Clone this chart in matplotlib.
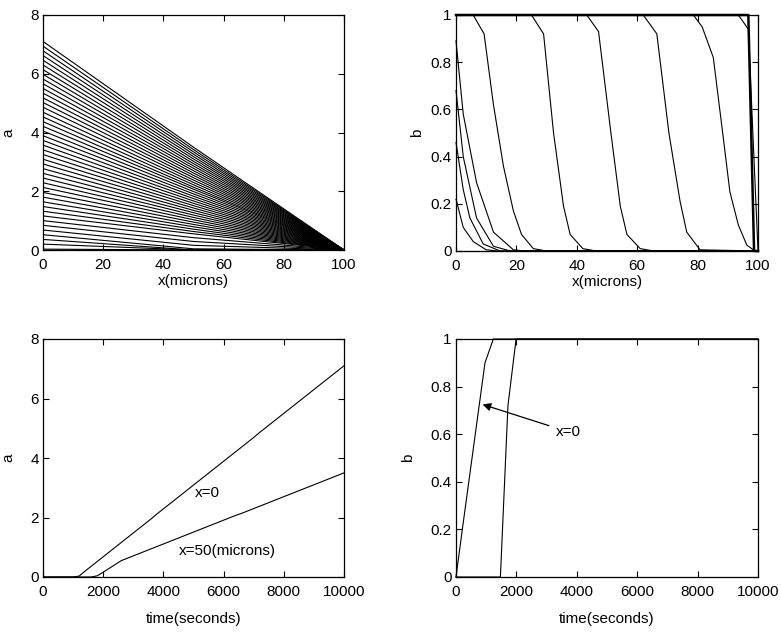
import numpy as np
import matplotlib
matplotlib.use("Agg")
import matplotlib.pyplot as plt
from matplotlib.ticker import FormatStrFormatter

plt.rcParams['font.family'] = ['Liberation Sans', 'DejaVu Sans']
plt.rcParams['font.size'] = 11

# ---- data ----
# times of the a(x) snapshots (seconds)
t_snap = np.arange(0, 10001, 200)

# a at x=0 for each snapshot
a_x0 = [0, 0, 0, 0, 0, 0, 0.03, 0.20,
        0.36, 0.52, 0.68, 0.84, 1.00, 1.16, 1.32, 1.48, 1.64, 1.80,
        1.96, 2.13, 2.29, 2.45, 2.61, 2.77, 2.93, 3.09, 3.25, 3.41,
        3.57, 3.73, 3.89, 4.05, 4.21, 4.37, 4.53, 4.69, 4.86, 5.02,
        5.18, 5.34, 5.50, 5.66, 5.82, 5.98, 6.14, 6.30, 6.46, 6.62,
        6.78, 6.94, 7.10]

# a at x=50 microns for each snapshot
a_x50 = [0, 0, 0, 0, 0, 0, 0, 0, 0,
         0.04, 0.16, 0.29, 0.42, 0.55,
         0.63, 0.71, 0.79, 0.87, 0.95, 1.03, 1.11, 1.19, 1.27, 1.35,
         1.43, 1.51, 1.59, 1.67, 1.75, 1.83, 1.91, 1.99, 2.07, 2.14,
         2.22, 2.30, 2.38, 2.46, 2.54, 2.62, 2.70, 2.78, 2.86, 2.94,
         3.02, 3.10, 3.18, 3.26, 3.34, 3.42, 3.50]

x_a = [0, 50, 100]

# b(x) profiles
bx_0 = [0, 100]
b_0 = [0, 0]
bx_A = [0, 2.4, 5.7, 10, 14, 100]
b_A = [0.22, 0.10, 0.04, 0.005, 0, 0]
bx_B = [0, 2.4, 4.6, 9, 14.6, 100]
b_B = [0.46, 0.26, 0.14, 0.03, 0, 0]
bx_C = [0, 2.4, 6.8, 12.4, 18, 100]
b_C = [0.68, 0.40, 0.14, 0.02, 0, 0]
bx_D = [0, 2.4, 6.8, 12.4, 19, 23, 100]
b_D = [0.89, 0.58, 0.29, 0.08, 0.005, 0, 0]
bx_E = [0, 5.7, 9.3, 12.4, 15.7, 19.0, 21.7, 25.6, 30, 100]
b_E = [1, 1, 0.92, 0.62, 0.36, 0.17, 0.07, 0.01, 0, 0]
bx_F = [0, 25.0, 29.0, 32.3, 35.6, 37.8, 42.0, 46.5, 100]
b_F = [1, 1, 0.92, 0.50, 0.19, 0.07, 0.01, 0, 0]
bx_G = [0, 43.3, 47.2, 51.3, 54.4, 56.6, 61.0, 65.5, 100]
b_G = [1, 1, 0.93, 0.50, 0.19, 0.07, 0.01, 0, 0]
bx_H = [0, 62.0, 66.5, 70.5, 74.2, 76.4, 80.8, 100]
b_H = [1, 1, 0.92, 0.50, 0.21, 0.08, 0.005, 0]
bx_I = [0, 78.6, 81.5, 85.2, 88.5, 90.7, 93.5, 96.3, 99.0, 100]
b_I = [1, 1, 0.95, 0.82, 0.48, 0.25, 0.11, 0.025, 0, 0]
bx_J = [0, 93.5, 96.8, 100]
b_J = [1, 1, 0.94, 0]
bx_K = [0, 96.8, 98.7, 100]
b_K = [1, 1, 0, 0]

# b against time at two positions
tb_x0 = [0, 220, 960, 1236, 10000]
b_x0 = [0, 0.21, 0.90, 1.0, 1.0]
tb_x50 = [0, 1470, 1720, 1990, 10000]
b_x50 = [0, 0, 0.72, 1.0, 1.0]

W, H = 781, 635
fig = plt.figure(figsize=(W / 100, H / 100), dpi=100)


def box(l, t, r, b):
    return [l / W, 1 - b / H, (r - l) / W, (b - t) / H]


def style(ax):
    ax.tick_params(direction='in', top=True, right=True, length=4,
                   width=0.8, labelsize=11, pad=3)
    ax.tick_params(axis='x', pad=6)
    for s in ax.spines.values():
        s.set_linewidth(0.9)


lw = 0.8

# top left
ax1 = fig.add_axes(box(43, 15, 344, 250))
for i in range(len(t_snap)):
    ax1.plot(x_a, [a_x0[i], a_x50[i], 0], color='k', lw=lw)
ax1.set_xlim(0, 100)
ax1.set_ylim(0, 8)
ax1.set_xticks(range(0, 101, 20))
ax1.set_yticks(range(0, 9, 2))
ax1.set_xlabel('x(microns)', labelpad=1)
ax1.set_ylabel('a', labelpad=11)
style(ax1)

# top right
ax2 = fig.add_axes(box(456, 15, 758, 251))
profiles = [(bx_0, b_0), (bx_A, b_A), (bx_B, b_B), (bx_C, b_C), (bx_D, b_D),
            (bx_E, b_E), (bx_F, b_F), (bx_G, b_G), (bx_H, b_H), (bx_I, b_I),
            (bx_J, b_J)]
for px, pb in profiles:
    ax2.plot(px, pb, color='k', lw=lw, clip_on=False)
ax2.plot(bx_K, b_K, color='k', lw=1.8, clip_on=False)
ax2.set_xlim(0, 100)
ax2.set_ylim(0, 1)
ax2.set_xticks(range(0, 101, 20))
ax2.set_yticks(np.arange(0, 1.01, 0.2))
ax2.yaxis.set_major_formatter(FormatStrFormatter('%g'))
ax2.set_xlabel('x(microns)', labelpad=1)
ax2.set_ylabel('b', labelpad=5)
style(ax2)

# bottom left
ax3 = fig.add_axes(box(43, 339, 344, 577))
ax3.plot(t_snap, a_x0, color='k', lw=lw)
ax3.plot(t_snap, a_x50, color='k', lw=lw)
ax3.text(5050, 2.84, 'x=0', ha='left', va='center')
ax3.text(4520, 0.87, 'x=50(microns)', ha='left', va='center')
ax3.set_xlim(0, 10000)
ax3.set_ylim(0, 8)
ax3.set_xticks(range(0, 10001, 2000))
ax3.set_yticks(range(0, 9, 2))
ax3.set_xlabel('time(seconds)', labelpad=9)
ax3.set_ylabel('a', labelpad=11)
style(ax3)

# bottom right
ax4 = fig.add_axes(box(456, 339, 758, 577))
ax4.plot(tb_x0, b_x0, color='k', lw=lw, clip_on=False)
ax4.plot(tb_x50, b_x50, color='k', lw=lw, clip_on=False)
ax4.annotate('x=0', xy=(880, 0.725), xytext=(3300, 0.61),
             ha='left', va='center',
             arrowprops=dict(arrowstyle='-|>', color='k', lw=0.9,
                             mutation_scale=12, shrinkA=3, shrinkB=0))
ax4.set_xlim(0, 10000)
ax4.set_ylim(0, 1)
ax4.set_xticks(range(0, 10001, 2000))
ax4.set_yticks(np.arange(0, 1.01, 0.2))
ax4.yaxis.set_major_formatter(FormatStrFormatter('%g'))
ax4.set_xlabel('time(seconds)', labelpad=9)
ax4.set_ylabel('b', labelpad=11)
style(ax4)

fig.savefig('out.png', dpi=100)
